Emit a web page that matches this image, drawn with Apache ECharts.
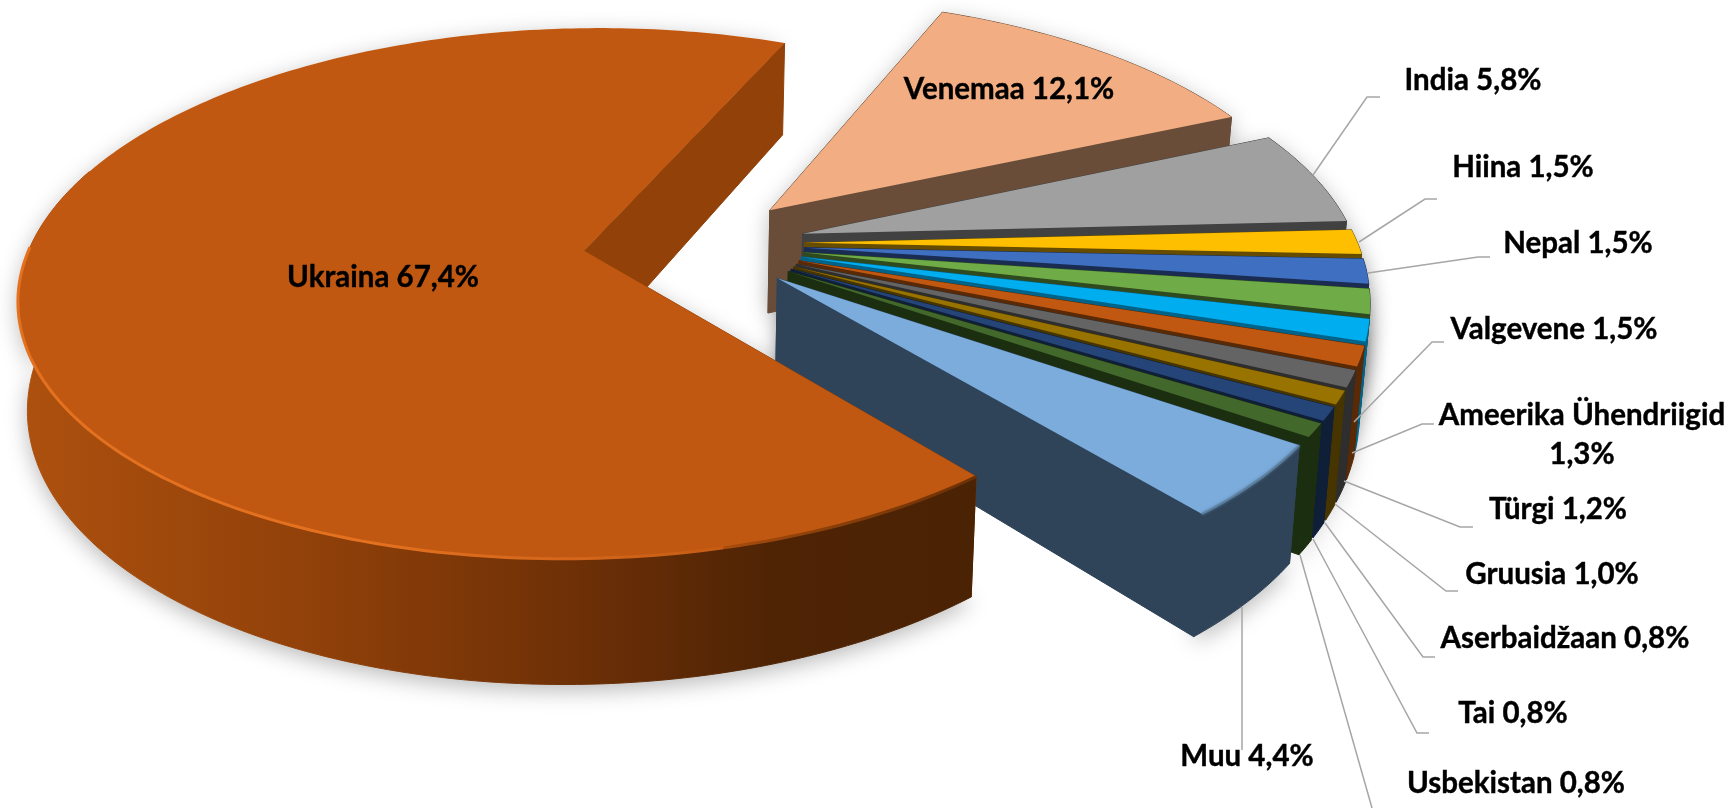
<!DOCTYPE html>
<html>
<head>
<meta charset="utf-8">
<style>
  html, body { margin: 0; padding: 0; background: #fff; }
  #chart { width: 1735px; height: 808px; }
</style>
<script src="https://cdn.jsdelivr.net/npm/echarts@6/dist/echarts.min.js"></script>
</head>
<body>
<div id="chart"></div>
<script>
// chart data
const categories = ['Ukraina', 'Venemaa', 'India', 'Hiina', 'Nepal', 'Valgevene', 'Ameerika Ühendriigid',
  'Türgi', 'Gruusia', 'Aserbaidžaan', 'Tai', 'Usbekistan', 'Muu']
const shares = [67.4, 12.1, 5.8, 1.5, 1.5, 1.5, 1.3, 1.2, 1.0, 0.8, 0.8, 0.8, 4.4]

// slice colours: top face and cut face
const topColors = ['#c15811', '#f2ae82', '#a0a0a0', '#fdbf00', '#3f6fc1', '#6fac47', '#00aeef',
  '#c15811', '#646464', '#987300', '#254478', '#43682b', '#7bacdc']
const sideColors = ['#924109', '#694d38', '#414141', '#654c00', '#1a2c51', '#2f4a1f', '#00638a',
  '#5a2906', '#2e2e2e', '#463500', '#0f1f38', '#1c2e10', '#2f4459']

// painted far to near
const drawOrder = [1, 2, 3, 4, 5, 6, 7, 8, 9, 10, 11, 12, 0]

// label anchors: text centre and leader line
const labelLayout = {
  'Ukraina': { at: [383, 277] },
  'Venemaa': { at: [1009, 89] },
  'India': { at: [1473, 80], line: [[1313, 175], [1367, 97], [1380, 97]] },
  'Hiina': { at: [1523, 167], line: [[1359, 242], [1425, 199], [1437, 199]] },
  'Nepal': { at: [1578, 243], line: [[1368, 273], [1478, 257], [1490, 257]] },
  'Valgevene': { at: [1554, 329], line: [[1354, 422], [1432, 342], [1444, 342]] },
  'Ameerika Ühendriigid': { at: [1582, 435], line: [[1352, 453], [1422, 424], [1434, 424]] },
  'Türgi': { at: [1558, 509], line: [[1344, 481], [1460, 527], [1473, 527]] },
  'Gruusia': { at: [1552, 574], line: [[1335, 504], [1446, 591], [1458, 591]] },
  'Aserbaidžaan': { at: [1565, 638], line: [[1325, 523], [1423, 657], [1435, 657]] },
  'Tai': { at: [1513, 713], line: [[1313, 539], [1417, 733], [1429, 733]] },
  'Usbekistan': { at: [1516, 783], line: [[1300, 555], [1372, 808]] },
  'Muu': { at: [1247, 756], line: [[1242, 607], [1242, 750]] }
}

// tilted disc: first slice starts 50 deg clockwise from 3 o'clock
const startAngle = 50
const disc = { cx: 694, cy: 243, rx: 553, ry: 256, k: 0.16, explode: 0.2, depth: 105, vx: 650 }
// small shifts in disc units for slices that sit a little off the plain explode
const sliceNudge = { 1: [0, 0.012], 2: [0.003, 0.01] }

function project(X, Y) {
  const d = 1 - disc.k * Y
  return { x: disc.cx + disc.rx * X / d, y: disc.cy + disc.ry * Y / d, h: disc.depth / d }
}
function bottomOf(p) {
  return [disc.vx + (p.x - disc.vx) * 0.985, p.y + p.h]
}

const sliceAngles = []
let cum = startAngle
shares.forEach(v => {
  sliceAngles.push([cum, cum + v * 3.6])
  cum += v * 3.6
})

function sliceGeometry(i) {
  const [a0, a1] = sliceAngles[i]
  const mid = (a0 + a1) / 2 * Math.PI / 180
  const nudge = sliceNudge[i] || [0, 0]
  const ox = disc.explode * Math.cos(mid) + nudge[0]
  const oy = disc.explode * Math.sin(mid) + nudge[1]
  const rim = []
  const steps = Math.max(2, Math.ceil(a1 - a0))
  for (let s = 0; s <= steps; s++) {
    const t = (a0 + (a1 - a0) * s / steps) * Math.PI / 180
    rim.push(project(ox + Math.cos(t), oy + Math.sin(t)))
  }
  return { apex: project(ox, oy), rim: rim }
}

const ukrainaWall = new echarts.graphic.LinearGradient(16, 0, 980, 0, [
  { offset: 0, color: '#ae510f' },
  { offset: 0.32, color: '#8f4009' },
  { offset: 0.58, color: '#6e3006' },
  { offset: 0.78, color: '#4f2405' },
  { offset: 1, color: '#4a2204' }
], true)
const ukrainaBevel = new echarts.graphic.LinearGradient(16, 0, 800, 0, [
  { offset: 0, color: '#e4711f' },
  { offset: 0.45, color: '#e4711f' },
  { offset: 0.75, color: '#d0641a' },
  { offset: 1, color: '#c15811' }
], true)
const ukrainaDarkEdge = new echarts.graphic.LinearGradient(640, 0, 980, 0, [
  { offset: 0, color: '#c15811' },
  { offset: 0.5, color: '#8e4109' },
  { offset: 1, color: '#6a3006' }
], true)

function renderSlice(params, api) {
  const i = api.value(0)
  const order = drawOrder.indexOf(i) + 1
  const g = sliceGeometry(i)
  const pts = g.rim.map(p => [p.x, p.y])
  // the big slice's far rim wall is hidden behind its own face
  const wallRim = i === 0 ? g.rim.slice(0, 150) : g.rim
  const wall = wallRim.map(p => [p.x, p.y]).concat(wallRim.map(bottomOf).reverse())
  const a = g.apex
  const first = g.rim[0]
  const last = g.rim[g.rim.length - 1]
  const cutFace = p => [[a.x, a.y], [p.x, p.y], bottomOf(p), bottomOf(a)]
  const silhouette = [[a.x, a.y]].concat(pts, wallRim.map(bottomOf).reverse(), [bottomOf(a)])
  const wallFill = i === 0 ? ukrainaWall : sideColors[i]
  const children = [
    // soft shadow under the slice
    {
      type: 'polygon', z2: 1, shape: { points: silhouette },
      style: { fill: '#fff', shadowBlur: 22, shadowColor: 'rgba(0,0,0,0.28)', shadowOffsetY: 6 }
    },
    {
      type: 'polygon', z2: order * 10, shape: { points: cutFace(first) },
      style: { fill: sideColors[i], stroke: sideColors[i], lineWidth: 1 }
    },
    {
      type: 'polygon', z2: order * 10 + 1, shape: { points: cutFace(last) },
      style: { fill: sideColors[i], stroke: sideColors[i], lineWidth: 1 }
    },
    {
      type: 'polygon', z2: order * 10 + 2, shape: { points: wall },
      style: { fill: wallFill, stroke: wallFill, lineWidth: 1 }
    },
    {
      type: 'polygon', z2: order * 10 + 3, shape: { points: [[a.x, a.y]].concat(pts) },
      style: { fill: topColors[i] }
    }
  ]
  if (i === 0) {
    // lit bevel on the near rim, dark edge toward the right corner
    children.push({
      type: 'polyline', z2: order * 10 + 4,
      shape: { points: pts.slice(26, 132) },
      style: { fill: null, stroke: ukrainaBevel, lineWidth: 3 }
    })
    children.push({
      type: 'polyline', z2: order * 10 + 4,
      shape: { points: pts.slice(0, 27) },
      style: { fill: null, stroke: ukrainaDarkEdge, lineWidth: 3 }
    })
  }
  if (i === 12) {
    children.push({
      type: 'polyline', z2: order * 10 + 4,
      shape: { points: pts },
      style: { fill: null, stroke: '#5c7f9e', lineWidth: 2, shadowBlur: 3, shadowColor: '#5c7f9e' }
    })
  }
  return { type: 'group', children: children }
}

function shareText(i) {
  return shares[i].toFixed(1).replace('.', ',') + '%'
}

const graphics = []
categories.forEach((name, i) => {
  const l = labelLayout[name]
  if (l.line) {
    graphics.push({
      type: 'polyline', z: 50, silent: true,
      shape: { points: l.line },
      style: { fill: null, stroke: '#a6a6a6', lineWidth: 1.5 }
    })
  }
  const sep = name === 'Ameerika Ühendriigid' ? '\n' : ' '
  graphics.push({
    type: 'text', z: 60, silent: true, x: l.at[0], y: l.at[1],
    style: {
      text: name + sep + shareText(i), fill: '#000', align: 'center', verticalAlign: 'middle',
      font: 'bold 29.5px Lato', lineHeight: 39, stroke: '#000', lineWidth: 0.4
    }
  })
})

const chart = echarts.init(document.getElementById('chart'), null, { renderer: 'canvas' })
chart.setOption({
  animation: false,
  backgroundColor: '#fff',
  graphic: graphics,
  series: [{
    type: 'custom',
    coordinateSystem: 'none',
    silent: true,
    renderItem: renderSlice,
    data: shares.map((v, i) => [i, v])
  }]
})
</script>
</body>
</html>
